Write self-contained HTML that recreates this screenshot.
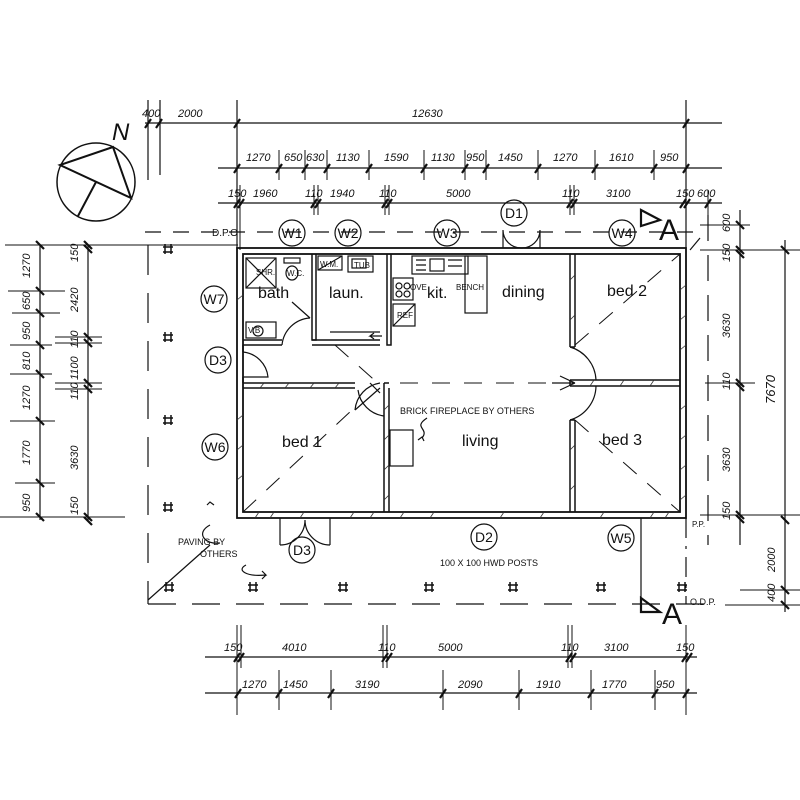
<!DOCTYPE html>
<html><head><meta charset="utf-8"><style>
html,body{margin:0;padding:0;background:#fff;}
svg{display:block;}
text{font-family:"Liberation Sans",sans-serif;fill:#111;}
.d{font-size:11px;font-style:italic;}
.r{font-size:16px;}
.t{font-size:14px;}
.s{font-size:8px;}
</style></head><body>
<svg width="800" height="800" viewBox="0 0 800 800" xmlns="http://www.w3.org/2000/svg">
<rect width="800" height="800" fill="#fff"/>
<g stroke="#111" fill="none" stroke-width="1.2">
<circle cx="96" cy="182" r="39" stroke-width="1.5"/>
<path d="M113,147 L60,165 L131,198 Z M96,182 L78,216" stroke-width="2"/>
<line x1="145" y1="123" x2="722" y2="123"/>
<line x1="148" y1="100" x2="148" y2="180"/><line x1="160" y1="100" x2="160" y2="175"/>
<line x1="237" y1="100" x2="237" y2="250"/><line x1="686" y1="100" x2="686" y2="250"/>
<line x1="218" y1="168" x2="722" y2="168"/>
<line x1="218" y1="203" x2="722" y2="203"/>
<g stroke-width="1">
<line x1="279" y1="150" x2="279" y2="180"/><line x1="305" y1="150" x2="305" y2="180"/><line x1="327" y1="150" x2="327" y2="180"/><line x1="369" y1="150" x2="369" y2="180"/><line x1="424" y1="150" x2="424" y2="180"/><line x1="465" y1="150" x2="465" y2="180"/><line x1="486" y1="150" x2="486" y2="180"/><line x1="538" y1="150" x2="538" y2="180"/><line x1="595" y1="150" x2="595" y2="180"/><line x1="654" y1="150" x2="654" y2="180"/>
<line x1="240" y1="185" x2="240" y2="250"/><line x1="314" y1="185" x2="314" y2="215"/><line x1="318" y1="185" x2="318" y2="215"/><line x1="385" y1="185" x2="385" y2="215"/><line x1="389" y1="185" x2="389" y2="215"/><line x1="570" y1="185" x2="570" y2="215"/><line x1="574" y1="185" x2="574" y2="215"/><line x1="708" y1="190" x2="708" y2="215"/>
</g>
<g stroke-width="2.2">
<path d="M145,128 l6,-9 M156,128 l6,-9 M234,128 l6,-9 M683,128 l6,-9"/>
<path d="M234,173 l6,-9 M276,173 l6,-9 M302,173 l6,-9 M324,173 l6,-9 M366,173 l6,-9 M421,173 l6,-9 M462,173 l6,-9 M483,173 l6,-9 M535,173 l6,-9 M592,173 l6,-9 M651,173 l6,-9 M683,173 l6,-9"/>
<path d="M234,208 l6,-9 M238,208 l6,-9 M311,208 l6,-9 M315,208 l6,-9 M382,208 l6,-9 M386,208 l6,-9 M567,208 l6,-9 M571,208 l6,-9 M680,208 l6,-9 M684,208 l6,-9 M705,208 l6,-9"/>
</g>
<line x1="145" y1="232" x2="705" y2="232" stroke-dasharray="16,12"/>
<line x1="148" y1="245" x2="148" y2="604" stroke-dasharray="30,18"/>
<line x1="148" y1="604" x2="710" y2="604" stroke-dasharray="28,16"/>
<line x1="708" y1="215" x2="708" y2="545" stroke-dasharray="26,14"/>
<line x1="686" y1="518" x2="686" y2="604" stroke-dasharray="20,8,3,8"/>
<line x1="148" y1="600" x2="210" y2="545"/>
<line x1="690" y1="250" x2="700" y2="238"/>
<g stroke-width="1.8">
<rect x="237" y="248" width="449" height="270"/>
<rect x="243" y="254" width="437" height="258"/>
</g>
<g stroke-width="1.5">
<path d="M312,254 V340 H316 V254"/>
<path d="M387,254 V345 H391 V254"/>
<path d="M312,340 H380 M312,345 H380"/>
<path d="M243,340 H282 M243,345 H282"/>
<path d="M243,383 H355 M243,388 H355"/>
<path d="M384,383 V512 M389,388 V512 M384,383 H389"/>
<path d="M570,254 V347 M575,254 V347 M570,347 H575"/>
<path d="M570,420 V512 M575,420 V512 M570,420 H575"/>
<path d="M570,380 H680 M570,386 H680 M570,380 V386"/>
<path d="M243,345 V352 M243,377 V383"/>
</g>
<g stroke-width="0.8" stroke="#333">
<path d="M255,518 l4,-6 M270,518 l4,-6 M300,518 l4,-6 M350,518 l4,-6 M370,518 l4,-6 M400,518 l4,-6 M430,518 l4,-6 M500,518 l4,-6 M540,518 l4,-6 M600,518 l4,-6 M650,518 l4,-6 M665,518 l4,-6"/>
<path d="M260,388 l4,-5 M285,388 l4,-5 M310,388 l4,-5 M335,388 l4,-5 M590,386 l4,-6 M620,386 l4,-6 M650,386 l4,-6"/>
<path d="M237,300 l6,-5 M237,420 l6,-5 M237,450 l6,-5 M237,480 l6,-5 M680,290 l6,-5 M680,320 l6,-5 M680,350 l6,-5 M680,410 l6,-5 M680,440 l6,-5 M680,470 l6,-5 M680,500 l6,-5"/>
<path d="M384,410 l5,-5 M384,440 l5,-5 M384,470 l5,-5 M384,500 l5,-5 M570,280 l5,-5 M570,320 l5,-5 M570,450 l5,-5 M570,490 l5,-5"/>
</g>
<rect x="246" y="258" width="30" height="30"/><path d="M246,258 L276,288 M276,258 L246,288"/>
<rect x="246" y="322" width="30" height="16"/><circle cx="258" cy="331" r="5"/>
<rect x="284" y="258" width="16" height="5"/><ellipse cx="292" cy="273" rx="6" ry="7"/>
<rect x="318" y="256" width="24" height="14"/><path d="M318,270 L342,256"/>
<rect x="348" y="256" width="25" height="16"/><rect x="352" y="259" width="14" height="9"/>
<rect x="393" y="278" width="20" height="22"/>
<circle cx="399" cy="286" r="3"/><circle cx="407" cy="286" r="3"/><circle cx="399" cy="294" r="3"/><circle cx="407" cy="294" r="3"/>
<rect x="393" y="304" width="22" height="22"/><path d="M393,326 L415,304"/>
<rect x="412" y="256" width="56" height="18"/><rect x="430" y="259" width="14" height="12"/>
<path d="M416,260 h10 M416,265 h10 M416,270 h10 M448,260 h14 M448,266 h14"/>
<rect x="465" y="256" width="22" height="57"/>
<rect x="390" y="430" width="23" height="36"/>
<path d="M422,438 c8,-10 -10,-10 5,-20" /><path d="M418,440 l4,-3 2,4"/>
<path d="M330,332 h50"/><path d="M382,336 h-12 l4,-3 M370,336 l4,3"/>
<path d="M282,345 A30,30 0 0 1 310,318" /><path d="M310,318 L292,302"/>
<path d="M243,352 A28,28 0 0 1 268,377 H243"/>
<path d="M380,383 A30,30 0 0 0 355,410"/><path d="M355,410 L380,388"/><path d="M370,383 L380,393" />
<path d="M384,416 A30,30 0 0 1 358,390"/>
<path d="M570,347 A36,36 0 0 1 596,380"/><path d="M570,420 A36,36 0 0 0 596,386"/>
<path d="M575,383 L560,376 M575,383 L560,390 M552,383 L575,383"/>
<path d="M503,230 V248 M540,230 V248 M503,230 A18,18 0 0 0 521,248 A18,18 0 0 0 540,230"/>
<path d="M280,518 V545 M330,518 V545 M280,545 A25,25 0 0 0 305,520 A25,25 0 0 0 330,545"/>
<g stroke-dasharray="18,14" stroke-width="1">
<line x1="243" y1="512" x2="352" y2="410"/>
<line x1="575" y1="420" x2="680" y2="512"/>
<line x1="575" y1="345" x2="680" y2="254"/>
<line x1="335" y1="345" x2="380" y2="385"/>
<line x1="400" y1="383" x2="560" y2="383"/>
</g>
<g stroke-width="1.5">
<path d="M165,244 v10 M171,244 v10 M163,247 h10 M163,252 h10"/>
<path d="M165,332 v10 M171,332 v10 M163,335 h10 M163,340 h10"/>
<path d="M165,415 v10 M171,415 v10 M163,418 h10 M163,423 h10"/>
<path d="M165,502 v10 M171,502 v10 M163,505 h10 M163,510 h10"/>
<path d="M166,582 v10 M172,582 v10 M164,585 h10 M164,590 h10"/>
<path d="M250,582 v10 M256,582 v10 M248,585 h10 M248,590 h10"/>
<path d="M340,582 v10 M346,582 v10 M338,585 h10 M338,590 h10"/>
<path d="M426,582 v10 M432,582 v10 M424,585 h10 M424,590 h10"/>
<path d="M510,582 v10 M516,582 v10 M508,585 h10 M508,590 h10"/>
<path d="M598,582 v10 M604,582 v10 M596,585 h10 M596,590 h10"/>
<path d="M679,582 v10 M685,582 v10 M677,585 h10 M677,590 h10"/>
</g>
<path d="M641,210 L660,220 L641,226 Z" stroke-width="2.2"/>
<line x1="641" y1="518" x2="641" y2="612"/>
<path d="M641,598 L660,612 L641,612 Z" stroke-width="2.2"/>
<circle cx="292" cy="233" r="13"/><circle cx="348" cy="233" r="13"/><circle cx="447" cy="233" r="13"/><circle cx="514" cy="213" r="13"/><circle cx="622" cy="233" r="13"/>
<circle cx="214" cy="299" r="13"/><circle cx="218" cy="360" r="13"/><circle cx="215" cy="447" r="13"/>
<circle cx="302" cy="550" r="13"/><circle cx="484" cy="537" r="13"/><circle cx="621" cy="538" r="13"/>
<line x1="40" y1="245" x2="40" y2="520"/><line x1="88" y1="245" x2="88" y2="520"/>
<g stroke-width="1">
<path d="M5,245 H120 M8,291 H65 M12,313 H60 M10,345 H52 M10,374 H52 M10,421 H55 M15,483 H55 M0,517 H125 M55,337 H102 M55,343 H102 M55,383 H102 M55,389 H102 M60,245 H238"/>
</g>
<g stroke-width="2.2">
<path d="M36,241 l8,8 M36,287 l8,8 M36,309 l8,8 M36,341 l8,8 M36,370 l8,8 M36,417 l8,8 M36,479 l8,8 M36,513 l8,8"/>
<path d="M84,241 l8,8 M84,245 l8,8 M84,333 l8,8 M84,339 l8,8 M84,379 l8,8 M84,385 l8,8 M84,513 l8,8 M84,517 l8,8"/>
</g>
<line x1="740" y1="210" x2="740" y2="545"/><line x1="785" y1="240" x2="785" y2="612"/>
<g stroke-width="1">
<path d="M700,225 H750 M700,250 H800 M705,383 H755 M700,515 H800 M740,590 H800 M725,605 H800"/>
</g>
<g stroke-width="2.2">
<path d="M736,221 l8,8 M736,246 l8,8 M736,250 l8,8 M736,379 l8,8 M736,383 l8,8 M736,511 l8,8 M736,515 l8,8"/>
<path d="M781,246 l8,8 M781,516 l8,8 M781,586 l8,8 M781,601 l8,8"/>
</g>
<line x1="205" y1="657" x2="697" y2="657"/><line x1="205" y1="693" x2="697" y2="693"/>
<g stroke-width="1">
<path d="M237,625 V715 M241,625 V668 M383,625 V668 M387,625 V668 M568,625 V668 M572,625 V668 M686,625 V715"/>
<path d="M279,670 V710 M331,670 V710 M443,670 V710 M519,670 V710 M591,670 V710 M655,670 V710"/>
</g>
<g stroke-width="2.2">
<path d="M234,662 l6,-9 M238,662 l6,-9 M382,662 l6,-9 M386,662 l6,-9 M566,662 l6,-9 M570,662 l6,-9 M682,662 l6,-9 M686,662 l6,-9"/>
<path d="M235,698 l6,-9 M276,698 l6,-9 M328,698 l6,-9 M440,698 l6,-9 M516,698 l6,-9 M588,698 l6,-9 M652,698 l6,-9 M683,698 l6,-9"/>
</g>
<path d="M210,525 c-15,8 -5,20 10,18 M207,505 l3,-3 4,3"/>
<path d="M246,565 c-10,5 0,12 20,10 l-4,-4 M266,575 l-4,4"/>
</g>
<text x="112" y="140" font-size="24" font-style="italic">N</text>
<text x="142" y="117" class="d">400</text><text x="178" y="117" class="d">2000</text><text x="412" y="117" class="d">12630</text>
<g class="d">
<text x="246" y="161">1270</text><text x="284" y="161">650</text><text x="306" y="161">630</text><text x="336" y="161">1130</text><text x="384" y="161">1590</text><text x="431" y="161">1130</text><text x="466" y="161">950</text><text x="498" y="161">1450</text><text x="553" y="161">1270</text><text x="609" y="161">1610</text><text x="660" y="161">950</text>
<text x="228" y="197">150</text><text x="253" y="197">1960</text><text x="305" y="197">110</text><text x="330" y="197">1940</text><text x="379" y="197">110</text><text x="446" y="197">5000</text><text x="562" y="197">110</text><text x="606" y="197">3100</text><text x="676" y="197">150</text><text x="697" y="197">600</text>
<text x="224" y="651">150</text><text x="282" y="651">4010</text><text x="378" y="651">110</text><text x="438" y="651">5000</text><text x="561" y="651">110</text><text x="604" y="651">3100</text><text x="676" y="651">150</text>
<text x="242" y="688">1270</text><text x="283" y="688">1450</text><text x="355" y="688">3190</text><text x="458" y="688">2090</text><text x="536" y="688">1910</text><text x="602" y="688">1770</text><text x="656" y="688">950</text>
</g>
<g class="d">
<text transform="translate(30,278) rotate(-90)">1270</text>
<text transform="translate(30,310) rotate(-90)">650</text>
<text transform="translate(30,340) rotate(-90)">950</text>
<text transform="translate(30,370) rotate(-90)">810</text>
<text transform="translate(30,410) rotate(-90)">1270</text>
<text transform="translate(30,465) rotate(-90)">1770</text>
<text transform="translate(30,512) rotate(-90)">950</text>
<text transform="translate(78,262) rotate(-90)">150</text>
<text transform="translate(78,312) rotate(-90)">2420</text>
<text transform="translate(78,348) rotate(-90)">110</text>
<text transform="translate(78,380) rotate(-90)">1100</text>
<text transform="translate(78,400) rotate(-90)">110</text>
<text transform="translate(78,470) rotate(-90)">3630</text>
<text transform="translate(78,515) rotate(-90)">150</text>
<text transform="translate(730,232) rotate(-90)">600</text>
<text transform="translate(730,262) rotate(-90)">150</text>
<text transform="translate(730,338) rotate(-90)">3630</text>
<text transform="translate(730,390) rotate(-90)">110</text>
<text transform="translate(730,472) rotate(-90)">3630</text>
<text transform="translate(730,520) rotate(-90)">150</text>
<text transform="translate(775,404) rotate(-90)" font-size="13">7670</text>
<text transform="translate(775,572) rotate(-90)">2000</text>
<text transform="translate(775,602) rotate(-90)">400</text>
</g>
<text x="212" y="236" font-size="10">D.P.O</text>
<g class="t" text-anchor="middle">
<text x="292" y="238">W1</text><text x="348" y="238">W2</text><text x="447" y="238">W3</text><text x="514" y="218">D1</text><text x="622" y="238">W4</text>
<text x="214" y="304">W7</text><text x="218" y="365">D3</text><text x="215" y="452">W6</text>
<text x="302" y="555">D3</text><text x="484" y="542">D2</text><text x="621" y="543">W5</text>
</g>
<g class="r">
<text x="258" y="298">bath</text><text x="329" y="298">laun.</text><text x="427" y="298">kit.</text><text x="502" y="297">dining</text><text x="607" y="296">bed 2</text>
<text x="282" y="447">bed 1</text><text x="462" y="446">living</text><text x="602" y="445">bed 3</text>
</g>
<g class="s">
<text x="256" y="275">SHR.</text><text x="287" y="276">W.C.</text><text x="320" y="267">W.M.</text><text x="354" y="268">TUB</text>
<text x="456" y="290">BENCH</text><text x="397" y="318">REF</text><text x="410" y="290">OVE</text><text x="248" y="333">V.B</text>
<text x="400" y="414" font-size="9">BRICK FIREPLACE BY OTHERS</text>
<text x="178" y="545" font-size="9">PAVING BY</text><text x="200" y="557" font-size="9">OTHERS</text>
<text x="440" y="566" font-size="9">100 X 100 HWD POSTS</text>
<text x="690" y="605" font-size="9">O.D.P.</text><text x="692" y="527">P.P.</text>
</g>
<text x="659" y="240" font-size="30">A</text>
<text x="662" y="624" font-size="30">A</text>
</svg>
</body></html>
